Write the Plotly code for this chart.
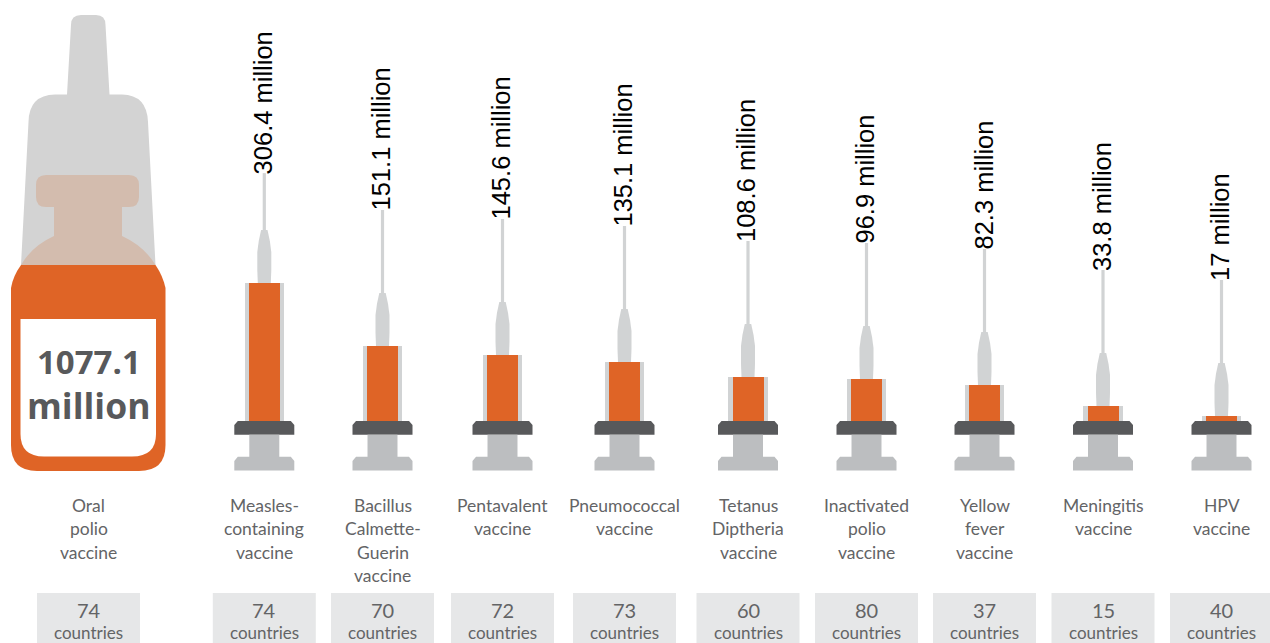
import plotly.graph_objects as go

# ---- data ----
bottle_name = ["Oral", "polio", "vaccine"]
bottle_label = ["1077.1", "million"]
bottle_countries = 74

vaccines = [
    ["Measles-", "containing", "vaccine"],
    ["Bacillus", "Calmette-", "Guerin", "vaccine"],
    ["Pentavalent", "vaccine"],
    ["Pneumococcal", "vaccine"],
    ["Tetanus", "Diptheria", "vaccine"],
    ["Inactivated", "polio", "vaccine"],
    ["Yellow", "fever", "vaccine"],
    ["Meningitis", "vaccine"],
    ["HPV", "vaccine"],
]
dose_labels = ["306.4", "151.1", "145.6", "135.1", "108.6", "96.9", "82.3", "33.8", "17"]
# heights of the bars as drawn in the reference, in million doses
drawn_doses = [306.4, 166.7, 146.7, 131.0, 97.8, 93.3, 80.0, 33.3, 11.1]
countries = [74, 70, 72, 73, 60, 80, 37, 15, 40]

# ---- layout constants ----
W, H = 1270, 643
BASE = 421          # pixel row of zero doses
SCALE = 0.45        # pixels per million doses
centers = [264.3, 382.5, 502.5, 624.5, 748, 866.5, 984.5, 1103, 1221.5]
BOTTLE_X = 88.5
ORANGE = "#df6426"
LIGHT = "#d1d3d4"
BOTTLE_GREY = "#d3d3d3"
DARK = "#58595b"
MID = "#bcbec0"
BOX = "#e6e7e8"
TAN = "#d3bcae"
TEXT = "#636466"
NARROW = "Lato"


def py(p):
    return (BASE - p) / SCALE


def path(points_and_cmds):
    out = []
    for item in points_and_cmds:
        if isinstance(item, str):
            out.append(item)
        else:
            out.append(f"{item[0]:.2f},{py(item[1]):.2f}")
    return " ".join(out)


def poly(color, cmds):
    return dict(type="path", xref="x", yref="y", path=path(cmds),
                fillcolor=color, line=dict(width=0), layer="below")


def rect(color, x0, x1, p0, p1):
    return dict(type="rect", xref="x", yref="y", x0=x0, x1=x1, y0=py(p0), y1=py(p1),
                fillcolor=color, line=dict(width=0), layer="below")


shapes = []

# bottle
dropper = ["M", (28.5, 265), "L", (21, 265), "L", (28.5, 122), "Q", (29, 95), (55, 94.5), "L", (67, 94.5),
           "L", (71, 25), "Q", (71, 15), (81, 15), "L", (96, 15), "Q", (105.5, 15), (105.5, 25),
           "L", (109.5, 94.5), "L", (122, 94.5), "Q", (147, 95), (148, 122), "L", (155.5, 265), "Z"]
shapes.append(poly(BOTTLE_GREY, dropper))
neck = ["M", (21, 265), "Q", (32, 246), (54, 236), "L", (54, 207), "L", (46, 207), "Q", (36, 207), (36, 197),
        "L", (36, 185), "Q", (36, 175), (46, 175), "L", (129, 175), "Q", (139, 175), (139, 185),
        "L", (139, 197), "Q", (139, 207), (129, 207), "L", (122, 207), "L", (122, 236),
        "Q", (144, 246), (155.5, 265), "Z"]
shapes.append(poly(TAN, neck))
liquid = ["M", (21, 265), "L", (155.5, 265), "Q", (163, 276), (165.5, 288), "L", (165.5, 445),
          "Q", (165.5, 471), (139, 471), "L", (37, 471), "Q", (11, 471), (11, 445), "L", (11, 288),
          "Q", (13, 276), (21, 265), "Z"]
shapes.append(poly(ORANGE, liquid))
label = ["M", (20.5, 319), "L", (156, 319), "L", (156, 434), "Q", (156, 456.5), (132, 456.5), "L", (44, 456.5),
         "Q", (20.5, 456.5), (20.5, 434), "Z"]
shapes.append(poly("#ffffff", label))

NEEDLE_PX = [110, 136, 136, 136, 136, 136, 136, 136, 136]
for c, d, n in zip(centers, drawn_doses, NEEDLE_PX):
    top = BASE - d * SCALE
    # needle
    shapes.append(rect(LIGHT, c - 1.6, c + 1.6, top - n, top))
    # needle hub
    hub = ["M", (c - 6.5, top), "L", (c - 7, top - 13), "L", (c - 7, top - 31),
           "Q", (c - 6, top - 42), (c - 3.2, top - 53), "L", (c + 3.2, top - 53),
           "Q", (c + 6, top - 42), (c + 7, top - 31), "L", (c + 7, top - 13), "L", (c + 6.5, top), "Z"]
    shapes.append(poly(LIGHT, hub))
    # flange
    shapes.append(poly(DARK, ["M", (c - 30, 434.7), "L", (c - 30, 425), "L", (c - 26.5, 421), "L", (c + 26.5, 421),
                              "L", (c + 30, 425), "L", (c + 30, 434.7), "Z"]))
    # plunger
    shapes.append(rect(MID, c - 15, c + 15, 434.7, 457))
    shapes.append(poly(MID, ["M", (c - 30, 470.5), "L", (c - 30, 461), "L", (c - 26.5, 456.7), "L", (c + 26.5, 456.7),
                             "L", (c + 30, 461), "L", (c + 30, 470.5), "Z"]))

# boxes below
for c in [BOTTLE_X] + centers:
    shapes.append(rect(BOX, c - 51.5, c + 51.5, 593, 643))

fig = go.Figure()
fig.add_trace(go.Bar(x=centers, y=drawn_doses, width=39.5, marker=dict(color=LIGHT, line=dict(width=0)),
                     hoverinfo="skip", showlegend=False))
fig.add_trace(go.Bar(x=centers, y=drawn_doses, width=31, marker=dict(color=ORANGE, line=dict(width=0)),
                     hoverinfo="skip", showlegend=False))

ann = []


def txt(x, p, s, size, color=TEXT, family=NARROW, **kw):
    ann.append(dict(x=x, y=py(p), xref="x", yref="y", text=s, showarrow=False,
                    font=dict(size=size, color=color, family=family),
                    xanchor="center", yanchor="middle", **kw))


def names(x, lines):
    for i, line in enumerate(lines):
        txt(x, 505.5 + 23.4 * i, line, 17.5)


def count(x, n):
    txt(x, 609.5, str(n), 20)
    txt(x, 632, "countries", 17)


names(BOTTLE_X, bottle_name)
count(BOTTLE_X, bottle_countries)
txt(BOTTLE_X, 361, f"<b>{bottle_label[0]}</b>", 33, DARK, "Open Sans")
txt(BOTTLE_X, 405, f"<b>{bottle_label[1]}</b>", 35.5, DARK, "Open Sans")

for c, d, n, lab, nm, ct in zip(centers, drawn_doses, NEEDLE_PX, dose_labels, vaccines, countries):
    ann.append(dict(x=c, y=d, xref="x", yref="y", text=f"{lab} million", showarrow=False,
                    textangle=-90, yshift=n - 3, xshift=-1.5, xanchor="center", yanchor="bottom",
                    font=dict(size=25.5, color="#000000", family="Liberation Sans")))
    names(c, nm)
    count(c, ct)

fig.update_layout(
    width=W, height=H, margin=dict(l=0, r=0, t=0, b=0),
    paper_bgcolor="#ffffff", plot_bgcolor="#ffffff",
    barmode="overlay", bargap=0, showlegend=False,
    xaxis=dict(range=[0, W], visible=False, fixedrange=True),
    yaxis=dict(range=[py(H), py(0)], visible=False, fixedrange=True),
    shapes=shapes, annotations=ann,
)
fig.write_html("out.html", post_script="document.body.style.margin='0';document.body.style.overflow='hidden';",
               config=dict(displayModeBar=False))
